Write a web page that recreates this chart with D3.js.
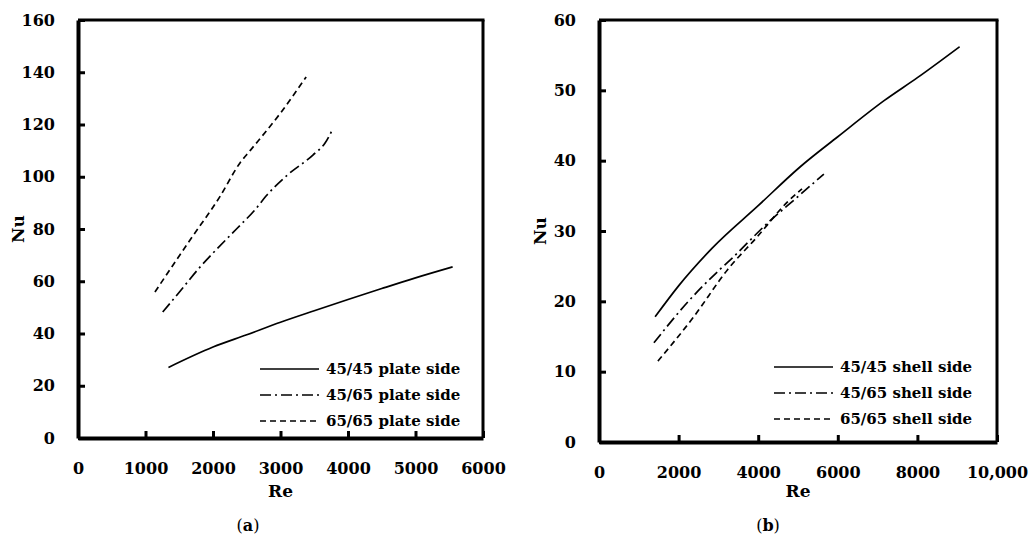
<!DOCTYPE html>
<html>
<head>
<meta charset="utf-8">
<script src="https://cdn.jsdelivr.net/npm/d3@7"></script>
<style>
  body { margin: 0; background: #fff; }
  svg { display: block; }
  text { font-family: "DejaVu Serif", serif; font-weight: bold; fill: #000; }
</style>
</head>
<body>
<div id="chart"></div>
<script>
// (a) plate side, Re vs Nu
var plateNames = ["45/45 plate side", "45/65 plate side", "65/65 plate side"];
var plate4545 = [[1340, 27.0], [2000, 34.8], [2500, 39.5], [3000, 44.3], [3500, 48.7], [4000, 53.0], [4500, 57.2], [5000, 61.3], [5550, 65.5]];
var plate4565 = [[1255, 48.2], [1500, 55.8], [1810, 65.5], [2000, 70.8], [2355, 80.2], [2620, 87.3], [2800, 93.0], [3100, 100.6], [3480, 108.3], [3660, 112.9], [3765, 117.8]];
var plate6565 = [[1140, 55.9], [1660, 75.8], [2100, 92.3], [2400, 105.3], [2550, 110.0], [3000, 124.4], [3380, 138.2]];

// (b) shell side
var shellNames = ["45/45 shell side", "45/65 shell side", "65/65 shell side"];
var shell4545 = [[1410, 17.8], [2000, 22.2], [2850, 27.6], [4000, 33.6], [5050, 39.1], [6000, 43.4], [7180, 48.6], [8000, 51.8], [9060, 56.2]];
var shell4565 = [[1380, 14.1], [2230, 19.9], [3050, 24.6], [3300, 25.9], [4230, 31.1], [4980, 34.8], [5650, 38.1]];
var shell6565 = [[1480, 11.5], [2380, 17.8], [3230, 24.5], [3980, 29.2], [4730, 34.1], [5100, 36.0]];

var plateXTicks = [0, 1000, 2000, 3000, 4000, 5000, 6000];
var plateYTicks = [0, 20, 40, 60, 80, 100, 120, 140, 160];
var shellXTicks = [0, 2000, 4000, 6000, 8000, 10000];
var shellYTicks = [0, 10, 20, 30, 40, 50, 60];

var dashes = [null, "11,4,2,4", "6,4"];

var width = 1032, height = 543;

var svg = d3.select("#chart").append("svg")
    .attr("width", width)
    .attr("height", height);

var panels = [
  { left: 78, top: 20, right: 483, bottom: 438, xMax: 6000, yMax: 160,
    xTicks: plateXTicks, yTicks: plateYTicks, series: [plate4545, plate4565, plate6565],
    names: plateNames, nuX: 18, letter: "a", letterX: 248, legX: 260, legY: 369 },
  { left: 599, top: 20, right: 997, bottom: 442, xMax: 10000, yMax: 60,
    xTicks: shellXTicks, yTicks: shellYTicks, series: [shell4545, shell4565, shell6565],
    names: shellNames, nuX: 540, letter: "b", letterX: 768, legX: 774, legY: 367 }
];

panels.forEach(function(p) {
  var x = d3.scaleLinear().domain([0, p.xMax]).range([p.left, p.right]);
  var y = d3.scaleLinear().domain([0, p.yMax]).range([p.bottom, p.top]);

  var g = svg.append("g");

  // thin frame on top and right
  g.append("line")
      .attr("x1", p.left).attr("x2", p.right + 1.5)
      .attr("y1", p.top).attr("y2", p.top)
      .attr("stroke", "#000").attr("stroke-width", 3);
  g.append("line")
      .attr("x1", p.right).attr("x2", p.right)
      .attr("y1", p.top).attr("y2", p.bottom)
      .attr("stroke", "#000").attr("stroke-width", 3);

  var fmt = function(d) { return d >= 10000 ? d3.format(",")(d) : d; };

  var xAxis = g.append("g")
      .attr("transform", "translate(0," + p.bottom + ")")
      .call(d3.axisBottom(x).tickValues(p.xTicks).tickFormat(fmt)
          .tickSizeInner(-7).tickSizeOuter(0).tickPadding(25));
  var yAxis = g.append("g")
      .attr("transform", "translate(" + p.left + ",0)")
      .call(d3.axisLeft(y).tickValues(p.yTicks)
          .tickSizeInner(-7).tickSizeOuter(0).tickPadding(23));

  [xAxis, yAxis].forEach(function(a) {
    a.attr("font-family", null).attr("font-size", null);
    a.select(".domain").attr("stroke", "#000").attr("stroke-width", 4);
    a.selectAll(".tick line").attr("stroke", "#000").attr("stroke-width", 3);
    a.selectAll("text")
        .style("font-size", "16px")
        .attr("fill", "#000");
  });

  var line = d3.line()
      .x(function(d) { return x(d[0]); })
      .y(function(d) { return y(d[1]); })
      .curve(d3.curveMonotoneX);

  p.series.forEach(function(s, i) {
    g.append("path")
        .datum(s)
        .attr("fill", "none")
        .attr("stroke", "#000")
        .attr("stroke-width", 1.7)
        .attr("stroke-dasharray", dashes[i])
        .attr("d", line);
  });

  // legend
  p.names.forEach(function(n, i) {
    var ly = p.legY + i * 26;
    g.append("line")
        .attr("x1", p.legX).attr("x2", p.legX + 59)
        .attr("y1", ly).attr("y2", ly)
        .attr("stroke", "#000").attr("stroke-width", 1.7)
        .attr("stroke-dasharray", dashes[i]);
    g.append("text")
        .attr("x", p.legX + 66).attr("y", ly)
        .attr("dy", "0.35em")
        .style("font-size", "15px")
        .text(n);
  });

  g.append("text")
      .attr("x", (p.left + p.right) / 2).attr("y", 497)
      .attr("text-anchor", "middle")
      .style("font-size", "17px")
      .text("Re");

  g.append("text")
      .attr("transform", "translate(" + p.nuX + "," + ((p.top + p.bottom) / 2) + ") rotate(-90)")
      .attr("text-anchor", "middle")
      .attr("dy", "0.35em")
      .style("font-size", "17px")
      .text("Nu");

  var cap = g.append("text")
      .attr("x", p.letterX).attr("y", 531)
      .attr("text-anchor", "middle")
      .style("font-size", "16px")
      .style("font-weight", "normal");
  cap.append("tspan").text("(");
  cap.append("tspan").style("font-weight", "bold").text(p.letter);
  cap.append("tspan").text(")");
});
</script>
</body>
</html>
